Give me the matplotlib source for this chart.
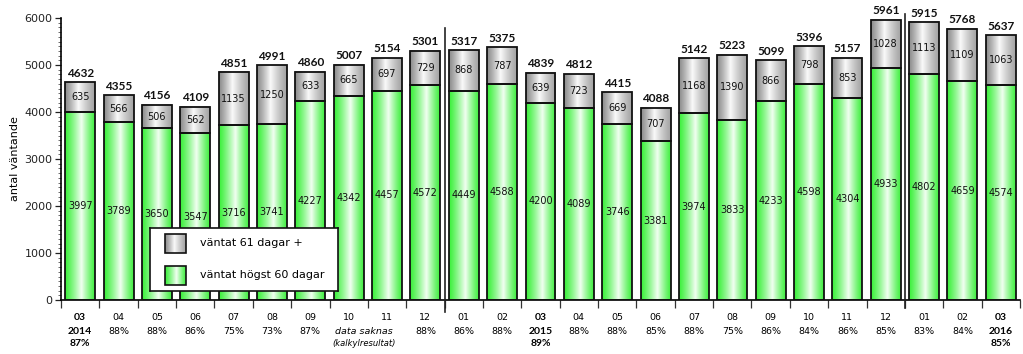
import numpy as np
import matplotlib
matplotlib.use("Agg")
import matplotlib.pyplot as plt
import matplotlib.transforms as mtransforms
from matplotlib.ticker import MultipleLocator, FixedLocator, NullFormatter

months = ['03', '04', '05', '06', '07', '08', '09', '10', '11', '12',
          '01', '02', '03', '04', '05', '06', '07', '08', '09', '10', '11', '12',
          '01', '02', '03']
years = {0: '2014', 12: '2015', 24: '2016'}
pct = ['87%', '88%', '88%', '86%', '75%', '73%', '87%', '', '', '88%',
       '86%', '88%', '89%', '88%', '88%', '85%', '88%', '75%', '86%', '84%', '86%', '85%',
       '83%', '84%', '85%']
green = [3997, 3789, 3650, 3547, 3716, 3741, 4227, 4342, 4457, 4572,
         4449, 4588, 4200, 4089, 3746, 3381, 3974, 3833, 4233, 4598, 4304, 4933,
         4802, 4659, 4574]
gray = [635, 566, 506, 562, 1135, 1250, 633, 665, 697, 729,
        868, 787, 639, 723, 669, 707, 1168, 1390, 866, 798, 853, 1028,
        1113, 1109, 1063]
totals = [4632, 4355, 4156, 4109, 4851, 4991, 4860, 5007, 5154, 5301,
          5317, 5375, 4839, 4812, 4415, 4088, 5142, 5223, 5099, 5396, 5157, 5961,
          5915, 5768, 5637]
note_main = 'data saknas'
note_sub = '(kalkylresultat)'
label_gray = 'väntat 61 dagar +'
label_green = 'väntat högst 60 dagar'
ylabel = 'antal väntande'

W, H = 1023, 354
fig = plt.figure(figsize=(W / 100, H / 100), dpi=100)
ax = fig.add_axes([61 / W, 1 - 300 / H, (1020 - 61) / W, (300 - 18) / H])

x = np.arange(len(months))
bw = 0.78


def grad_img(edge_l, edge_r, center, peak=0.5, n=64):
    t = np.linspace(0, 1, n)
    edge_l = np.array(matplotlib.colors.to_rgb(edge_l))
    edge_r = np.array(matplotlib.colors.to_rgb(edge_r))
    center = np.array(matplotlib.colors.to_rgb(center))
    img = np.zeros((1, n, 3))
    for i, tt in enumerate(t):
        if tt <= peak:
            f = (tt / peak) ** 1.2
            c = edge_l + (center - edge_l) * f
        else:
            f = ((1 - tt) / (1 - peak)) ** 1.2
            c = edge_r + (center - edge_r) * f
        img[0, i] = c
    return img


g_img = grad_img('#3cf03c', '#44f044', '#f2fff2', peak=0.55)
s_img = grad_img('#8e8e8e', '#a4a4a4', '#fafafa', peak=0.45)

b1 = ax.bar(x, green, bw, facecolor='none', edgecolor='#111111', linewidth=1.3, zorder=3)
b2 = ax.bar(x, gray, bw, bottom=green, facecolor='none', edgecolor='#111111', linewidth=1.3, zorder=3)

for bars, img in ((b1, g_img), (b2, s_img)):
    for p in bars:
        x0, y0 = p.get_x(), p.get_y()
        ax.imshow(img, extent=[x0, x0 + p.get_width(), y0, y0 + p.get_height()],
                  aspect='auto', interpolation='bilinear', zorder=2)

# value labels
for i in range(len(x)):
    ax.text(x[i], green[i] / 2, str(green[i]), ha='center', va='center',
            fontsize=7, color='#111111', zorder=4)
    ax.text(x[i], green[i] + gray[i] / 2, str(gray[i]), ha='center', va='center',
            fontsize=7, color='#111111', zorder=4)
    ax.annotate(str(totals[i]), (x[i], green[i] + gray[i]), xytext=(0, 2.5),
                textcoords='offset points', ha='center', va='bottom',
                fontsize=8.5, fontweight='bold', family='Lato', color='#111111', zorder=4)

ax.set_xlim(-0.5, len(x) - 0.5)
ax.set_ylim(0, 6000)

# spines
for s in ('top', 'right'):
    ax.spines[s].set_visible(False)
ax.spines['left'].set_linewidth(1.2)
ax.spines['bottom'].set_linewidth(1.2)

ax.yaxis.set_major_locator(MultipleLocator(1000))
ax.yaxis.set_minor_locator(MultipleLocator(100))
ax.tick_params(axis='y', which='major', length=4, width=0.9, labelsize=8, pad=2, colors='#222222')
ax.tick_params(axis='y', which='minor', length=2.2, width=0.6, colors='#555555')
ax.set_ylabel(ylabel, fontsize=8, labelpad=3)

# x ticks at boundaries, labels drawn manually
ax.xaxis.set_major_locator(FixedLocator(np.arange(-0.5, len(x), 1.0)))
ax.xaxis.set_major_formatter(NullFormatter())
ax.tick_params(axis='x', which='major', length=6, width=0.9, colors='#333333')

base = mtransforms.blended_transform_factory(ax.transData, ax.transAxes)


def off(dy):
    return mtransforms.offset_copy(base, fig=fig, x=0, y=dy, units='dots')


for i, m in enumerate(months):
    if i in years:
        ax.text(x[i], 0, m, transform=off(-18), ha='center', va='center',
                fontsize=7.5, fontweight='bold', family='Lato')
        ax.text(x[i], 0, years[i], transform=off(-31), ha='center', va='center',
                fontsize=7.5, fontweight='bold', family='Lato')
        ax.text(x[i], 0, pct[i], transform=off(-44), ha='center', va='center',
                fontsize=7.5, fontweight='bold', family='Lato')
    else:
        ax.text(x[i], 0, m, transform=off(-18), ha='center', va='center', fontsize=6.8)
        if pct[i]:
            ax.text(x[i], 0, pct[i], transform=off(-31), ha='center', va='center', fontsize=6.8)

ax.text(7.4, 0, note_main, transform=off(-31), ha='center', va='center',
        fontsize=6.8, style='italic')
ax.text(7.4, 0, note_sub, transform=off(-44), ha='center', va='center',
        fontsize=6.0, style='italic')

# year separators
ax.plot([9.5, 9.5], [1.0 - (28 - 18) / 282, -12 / 282], transform=base,
        color='#222222', lw=1.2, clip_on=False, zorder=5)
ax.plot([21.5, 21.5], [1.0 + 4 / 282, -8 / 282], transform=base,
        color='#222222', lw=1.2, clip_on=False, zorder=5)

# legend as inset
lax = fig.add_axes([150 / W, 1 - 291 / H, 188 / W, 63 / H], zorder=10)
lax.set_xlim(0, 188)
lax.set_ylim(0, 63)
lax.set_xticks([])
lax.set_yticks([])
for s in lax.spines.values():
    s.set_linewidth(1.2)
    s.set_color('#111111')
lax.imshow(s_img, extent=[15, 36, 38, 57], aspect='auto', interpolation='bilinear')
lax.imshow(g_img, extent=[15, 36, 6, 25], aspect='auto', interpolation='bilinear')
lax.add_patch(plt.Rectangle((15, 38), 21, 19, fill=False, ec='#111111', lw=1.2))
lax.add_patch(plt.Rectangle((15, 6), 21, 19, fill=False, ec='#111111', lw=1.2))
lax.text(50, 48, label_gray, fontsize=8, va='center', ha='left')
lax.text(50, 16, label_green, fontsize=8, va='center', ha='left')
lax.set_xlim(0, 188)
lax.set_ylim(0, 63)

fig.savefig('out.png', dpi=100)
